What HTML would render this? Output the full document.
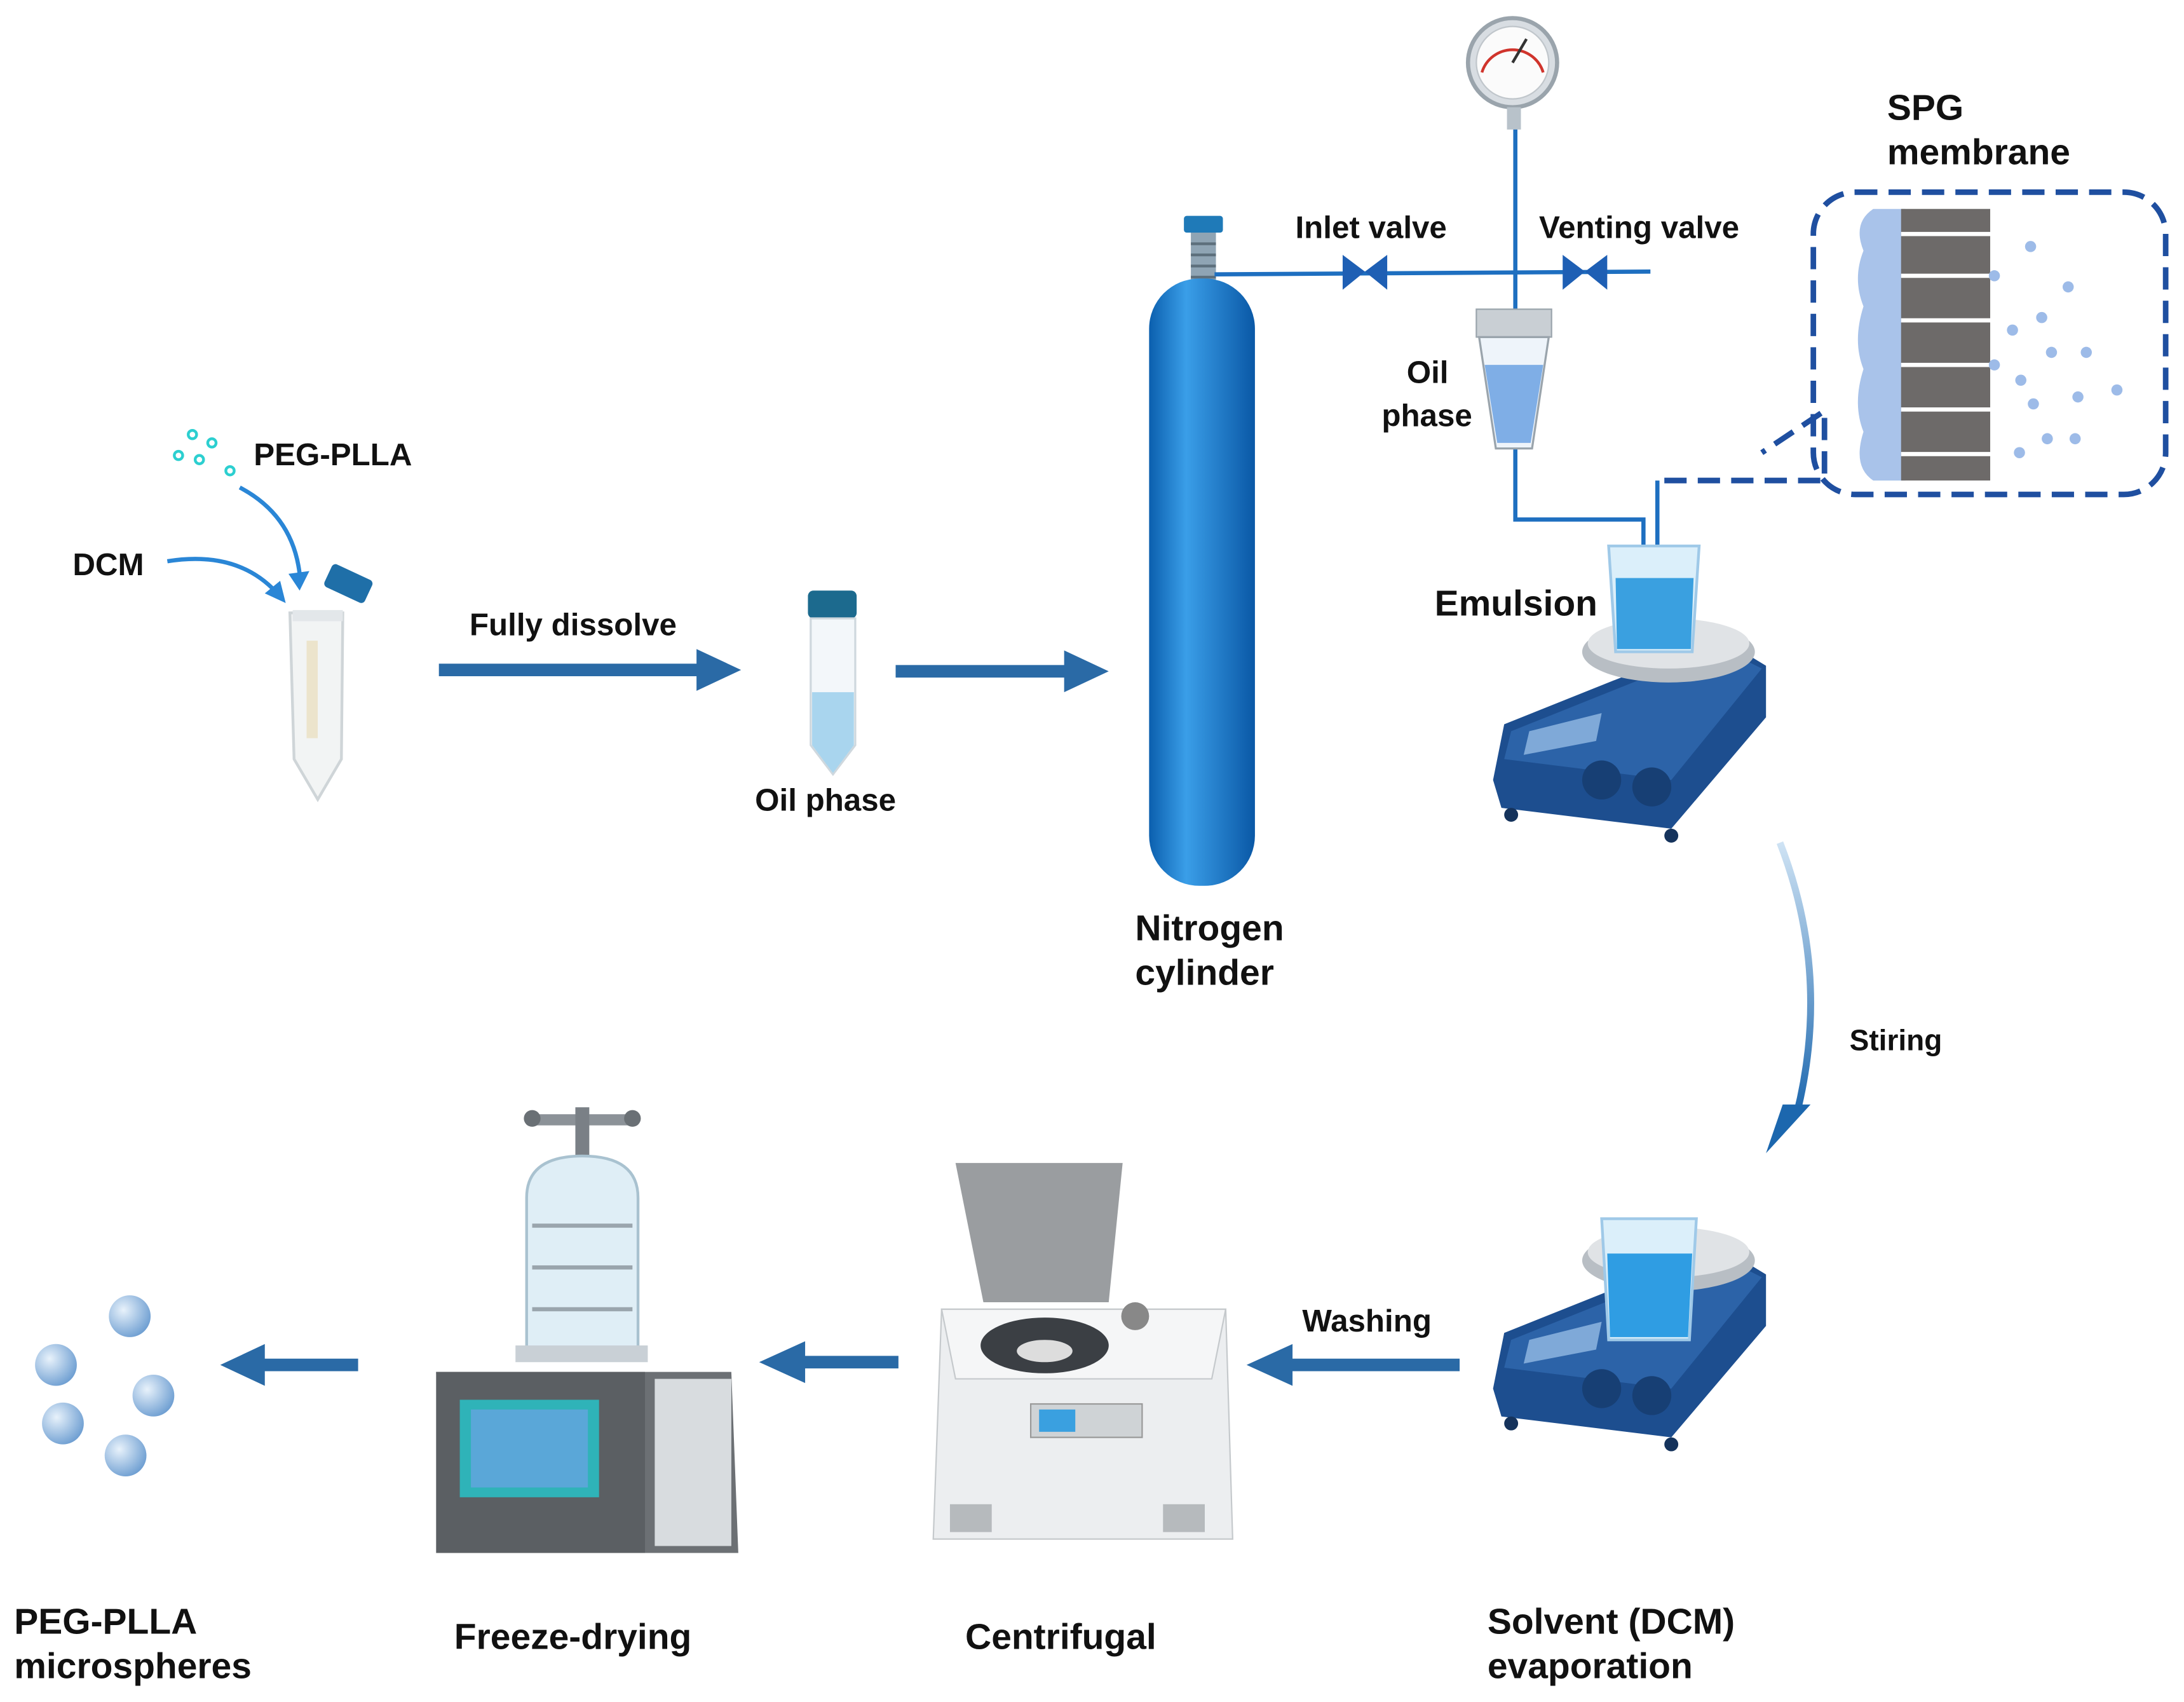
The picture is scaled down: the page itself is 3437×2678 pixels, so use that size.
<!DOCTYPE html>
<html><head><meta charset="utf-8"><style>
html,body{margin:0;padding:0;background:#fff;}
svg{display:block}
text{font-family:"Liberation Sans",Arial,sans-serif;font-weight:bold;fill:#111;}
</style></head><body>
<svg width="3437" height="2678" viewBox="0 0 1568 1222" xmlns="http://www.w3.org/2000/svg">
<defs>
<linearGradient id="cyl" x1="0" x2="1"><stop offset="0" stop-color="#0b5fae"/><stop offset="0.35" stop-color="#3a9ee8"/><stop offset="1" stop-color="#0a58a6"/></linearGradient>
<linearGradient id="arrowG" x1="0" x2="0" y1="0" y2="1"><stop offset="0" stop-color="#cfe3f4"/><stop offset="1" stop-color="#1c67ae"/></linearGradient>
<radialGradient id="sph" cx="0.35" cy="0.35" r="0.7"><stop offset="0" stop-color="#e8f2fb"/><stop offset="1" stop-color="#6f9fd2"/></radialGradient>
</defs>
<rect width="1568" height="1222" fill="#fff"/>

<g fill="none" stroke="#2ccfd0" stroke-width="2">
<circle cx="138" cy="312" r="3"/><circle cx="152" cy="318" r="3"/><circle cx="128" cy="327" r="3"/><circle cx="143" cy="330" r="3"/><circle cx="165" cy="338" r="3"/>
</g>
<text x="182" y="334" font-size="22.5">PEG-PLLA</text>
<text x="52" y="413" font-size="22.5">DCM</text>
<path d="M172,350 Q210,370 215,412" stroke="#2a86d6" stroke-width="3" fill="none"/>
<path d="M207,412 L215,424 L222,410 z" fill="#2a86d6"/>
<path d="M120,403 Q170,395 198,425" stroke="#2a86d6" stroke-width="3" fill="none"/>
<path d="M190,426 L205,433 L201,417 z" fill="#2a86d6"/>
<rect x="234" y="410" width="32" height="18" rx="3" fill="#1f6fa8" transform="rotate(25 250 419)"/>
<path d="M208,440 L246,440 L245,545 L228,574 L211,545 z" fill="#f2f4f4" stroke="#cfd5d8" stroke-width="2"/>
<rect x="210" y="438" width="36" height="8" fill="#e3e7ea"/>
<rect x="220" y="460" width="8" height="70" fill="#ece4cc"/>

<line x1="315" y1="481" x2="505" y2="481" stroke="#2a6aa6" stroke-width="9"/>
<path d="M500,466 L532,481 L500,496 z" fill="#2a6aa6"/>
<text x="337" y="456" font-size="22.5">Fully dissolve</text>

<rect x="580" y="424" width="35" height="20" rx="4" fill="#1c6a8e"/>
<path d="M582,444 L614,444 L614,535 L598,556 L582,535 z" fill="#f3f7fa" stroke="#cfd8de" stroke-width="1.5"/>
<path d="M583,497 L613,497 L613,535 L598,555 L583,535 z" fill="#a9d5ee"/>
<text x="542" y="582" font-size="22.5">Oil phase</text>

<line x1="643" y1="482" x2="770" y2="482" stroke="#2a6aa6" stroke-width="9"/>
<path d="M764,467 L796,482 L764,497 z" fill="#2a6aa6"/>

<rect x="850" y="155" width="28" height="12" rx="2" fill="#1f7ab8"/>
<rect x="855" y="167" width="18" height="38" fill="#8fa4b4"/>
<g stroke="#5d6f7c" stroke-width="2"><line x1="855" y1="175" x2="873" y2="175"/><line x1="855" y1="183" x2="873" y2="183"/><line x1="855" y1="191" x2="873" y2="191"/><line x1="855" y1="199" x2="873" y2="199"/></g>
<rect x="825" y="200" width="76" height="436" rx="36" fill="url(#cyl)"/>
<text x="815" y="675" font-size="26">Nitrogen</text>
<text x="815" y="707" font-size="26">cylinder</text>

<g stroke="#1e6fc0" stroke-width="3" fill="none">
<line x1="872" y1="197" x2="1185" y2="195"/>
<line x1="1088" y1="80" x2="1088" y2="222"/>
<polyline points="1088,322 1088,373 1180,373 1180,405"/>
<line x1="1190" y1="345" x2="1190" y2="405"/>
</g>
<g fill="#1e5fb4">
<path d="M964,183 L980,195 L964,208 z"/><path d="M996,183 L980,195 L996,208 z"/>
<path d="M1122,183 L1138,195 L1122,208 z"/><path d="M1154,183 L1138,195 L1154,208 z"/>
</g>
<text x="930" y="171" font-size="22.5">Inlet valve</text>
<text x="1105" y="171" font-size="22.5">Venting valve</text>
<circle cx="1086" cy="45" r="32" fill="#d8dde2" stroke="#9aa4ac" stroke-width="3"/>
<circle cx="1086" cy="45" r="26" fill="#fbfbfb" stroke="#c0c6cb"/>
<path d="M1064,52 A23,23 0 0 1 1108,52" stroke="#d0342c" stroke-width="2" fill="none"/>
<line x1="1086" y1="45" x2="1096" y2="28" stroke="#333" stroke-width="2"/>
<rect x="1082" y="77" width="10" height="16" fill="#b8c2ca"/>
<rect x="1060" y="222" width="54" height="20" fill="#c9cfd4" stroke="#9aa4ac"/>
<path d="M1062,242 L1112,242 L1100,322 L1074,322 z" fill="#eef4fa" stroke="#9aa4ac" stroke-width="1.5"/>
<path d="M1066,262 L1108,262 L1099,318 L1075,318 z" fill="#7faee6"/>
<text x="1010" y="275" font-size="22.5">Oil</text>
<text x="992" y="306" font-size="22.5">phase</text>

<text x="1355" y="86" font-size="26">SPG</text>
<text x="1355" y="118" font-size="26">membrane</text>
<rect x="1302" y="138" width="253" height="217" rx="30" fill="none" stroke="#1f4fa0" stroke-width="4" stroke-dasharray="16,8"/>
<path d="M1195,345 L1310,345 L1310,295 L1265,325" fill="none" stroke="#1f4fa0" stroke-width="4" stroke-dasharray="16,8"/>
<path d="M1345,150 Q1330,160 1338,180 Q1330,200 1338,220 Q1330,245 1338,265 Q1330,290 1338,310 Q1330,335 1345,345 L1368,345 L1368,150 z" fill="#a9c3ea"/>
<rect x="1365" y="150" width="64" height="195" fill="#6d6a69"/>
<g stroke="#fff" stroke-width="3"><line x1="1365" y1="168" x2="1432" y2="168"/><line x1="1365" y1="198" x2="1432" y2="198"/><line x1="1365" y1="230" x2="1432" y2="230"/><line x1="1365" y1="262" x2="1432" y2="262"/><line x1="1365" y1="294" x2="1432" y2="294"/><line x1="1365" y1="326" x2="1432" y2="326"/></g>
<g fill="#9dbbe8"><circle cx="1458" cy="177" r="4"/><circle cx="1485" cy="206" r="4"/><circle cx="1445" cy="237" r="4"/><circle cx="1466" cy="228" r="4"/><circle cx="1473" cy="253" r="4"/><circle cx="1498" cy="253" r="4"/><circle cx="1451" cy="273" r="4"/><circle cx="1492" cy="285" r="4"/><circle cx="1520" cy="280" r="4"/><circle cx="1460" cy="290" r="4"/><circle cx="1470" cy="315" r="4"/><circle cx="1490" cy="315" r="4"/><circle cx="1450" cy="325" r="4"/><circle cx="1432" cy="198" r="4"/><circle cx="1432" cy="262" r="4"/></g>

<g id="stir">
<path d="M1080,520 L1235,458 L1268,478 L1268,515 L1200,595 L1078,580 L1072,560 z" fill="#1d4e8f"/>
<path d="M1085,525 L1235,465 L1265,480 L1200,560 L1080,545 z" fill="#2c63a8"/>
<polygon points="1098,525 1150,512 1146,532 1094,542" fill="#7fa9d8"/>
<circle cx="1150" cy="560" r="14" fill="#173f74"/><circle cx="1186" cy="565" r="14" fill="#173f74"/>
<ellipse cx="1198" cy="468" rx="62" ry="22" fill="#b8bec4"/>
<ellipse cx="1198" cy="462" rx="58" ry="18" fill="#e0e3e6"/>
<circle cx="1085" cy="585" r="5" fill="#15335c"/><circle cx="1200" cy="600" r="5" fill="#15335c"/>
</g>
<path d="M1155,392 L1220,392 L1215,468 L1160,468 z" fill="#dbeffa" stroke="#9fc9e8" stroke-width="2"/>
<path d="M1160,415 L1216,415 L1214,466 L1161,466 z" fill="#3aa0e0"/>
<text x="1030" y="442" font-size="26">Emulsion</text>

<path d="M1278,605 Q1315,700 1290,800" stroke="url(#arrowG)" stroke-width="5" fill="none"/>
<path d="M1268,828 L1300,793 L1280,793 z" fill="#1c67ae"/>
<text x="1328" y="754" font-size="21">Stiring</text>

<use href="#stir" transform="translate(0,437)"/>
<path d="M1150,875 L1218,875 L1213,962 L1155,962 z" fill="#dbeffa" stroke="#9fc9e8" stroke-width="2"/>
<path d="M1154,900 L1215,900 L1212,960 L1156,960 z" fill="#2f9de3"/>
<text x="1068" y="1173" font-size="26">Solvent (DCM)</text>
<text x="1068" y="1205" font-size="26">evaporation</text>

<line x1="1048" y1="980" x2="922" y2="980" stroke="#2a6aa6" stroke-width="9"/>
<path d="M928,965 L895,980 L928,995 z" fill="#2a6aa6"/>
<text x="935" y="956" font-size="22.5">Washing</text>

<path d="M686,835 L806,835 L796,935 L706,935 z" fill="#9a9da0"/>
<path d="M676,940 L880,940 L885,1105 L670,1105 z" fill="#eceef0" stroke="#c5c9cc"/>
<path d="M676,940 L880,940 L870,990 L686,990 z" fill="#f5f6f7" stroke="#c5c9cc"/>
<ellipse cx="750" cy="966" rx="46" ry="20" fill="#3b3f44"/>
<ellipse cx="750" cy="970" rx="20" ry="8" fill="#ddd"/>
<circle cx="815" cy="945" r="10" fill="#888"/>
<rect x="740" y="1008" width="80" height="24" fill="#cfd3d6" stroke="#999"/>
<rect x="746" y="1012" width="26" height="16" fill="#3aa0e0"/>
<rect x="682" y="1080" width="30" height="20" fill="#b6babd"/><rect x="835" y="1080" width="30" height="20" fill="#b6babd"/>
<text x="693" y="1184" font-size="26">Centrifugal</text>

<line x1="645" y1="978" x2="575" y2="978" stroke="#2a6aa6" stroke-width="9"/>
<path d="M578,963 L545,978 L578,993 z" fill="#2a6aa6"/>

<rect x="380" y="800" width="76" height="8" fill="#8c9298"/>
<circle cx="382" cy="803" r="6" fill="#6a7075"/><circle cx="454" cy="803" r="6" fill="#6a7075"/>
<rect x="413" y="795" width="10" height="40" fill="#7a8086"/>
<path d="M378,860 Q378,830 418,830 Q458,830 458,860 L458,970 L378,970 z" fill="#dfeef6" stroke="#a9c2d0" stroke-width="2"/>
<g stroke="#9aa5ad" stroke-width="3"><line x1="382" y1="880" x2="454" y2="880"/><line x1="382" y1="910" x2="454" y2="910"/><line x1="382" y1="940" x2="454" y2="940"/></g>
<rect x="370" y="966" width="95" height="12" fill="#c9d0d6"/>
<path d="M313,985 L525,985 L530,1115 L318,1115 z" fill="#6c7074"/>
<rect x="313" y="985" width="150" height="130" fill="#5b5f63"/>
<rect x="330" y="1005" width="100" height="70" fill="#2fb3b8"/>
<rect x="338" y="1012" width="84" height="56" fill="#5aa7d8"/>
<rect x="470" y="990" width="55" height="120" fill="#d8dcdf"/>
<text x="326" y="1184" font-size="26">Freeze-drying</text>

<line x1="257" y1="980" x2="188" y2="980" stroke="#2a6aa6" stroke-width="9"/>
<path d="M190,965 L158,980 L190,995 z" fill="#2a6aa6"/>

<g fill="url(#sph)"><circle cx="93" cy="945" r="15"/><circle cx="40" cy="980" r="15"/><circle cx="110" cy="1002" r="15"/><circle cx="45" cy="1022" r="15"/><circle cx="90" cy="1045" r="15"/></g>
<text x="10" y="1173" font-size="26">PEG-PLLA</text>
<text x="10" y="1205" font-size="26">microspheres</text>
</svg>
</body></html>
